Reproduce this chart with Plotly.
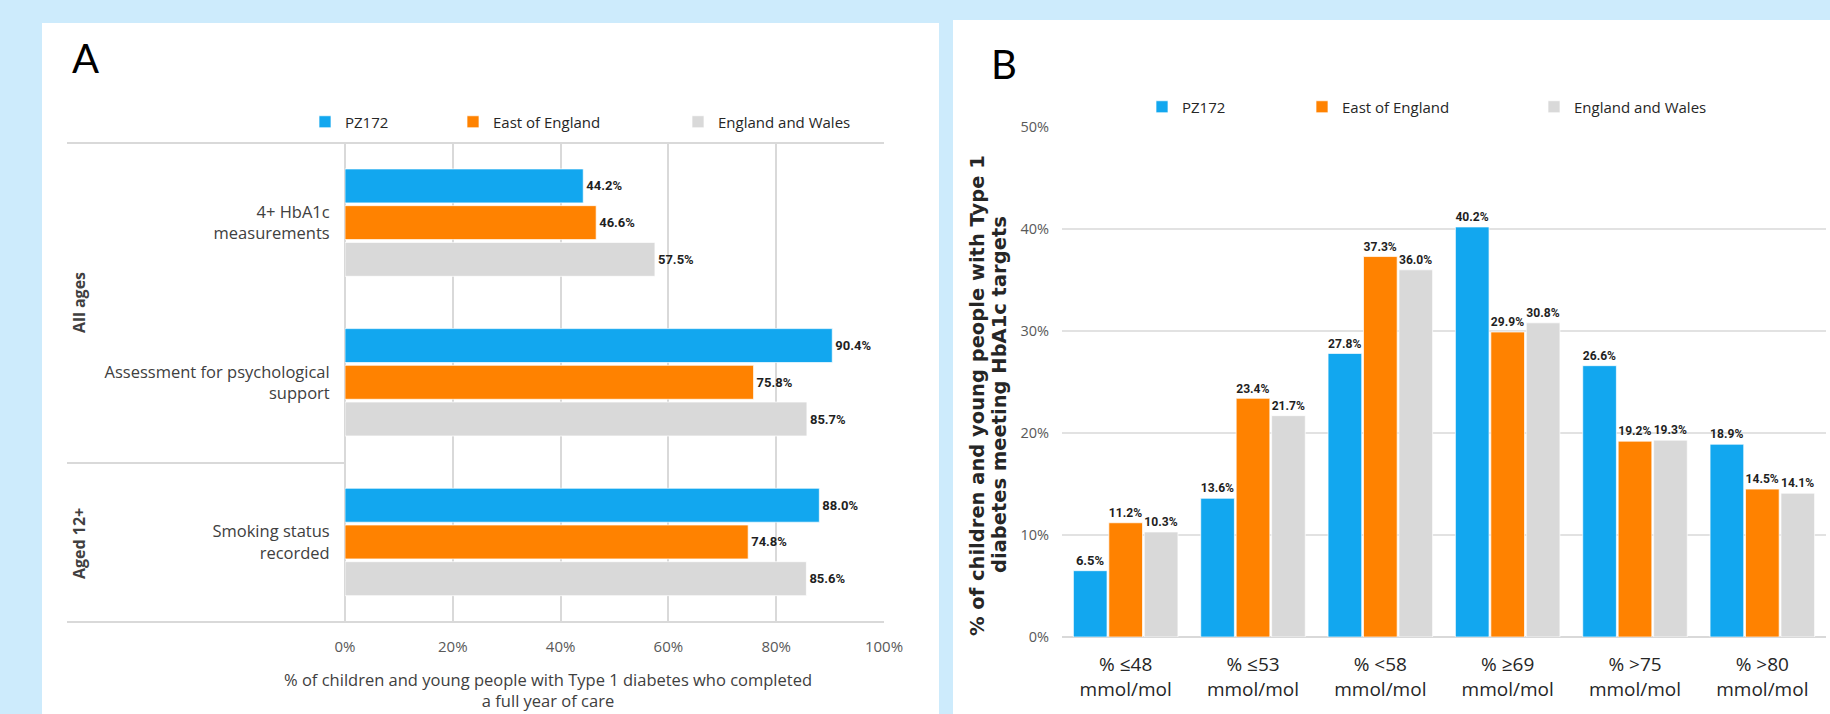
import plotly.graph_objects as go

# ---------------- data ----------------
series_names = ["PZ172", "East of England", "England and Wales"]

a_categories = ["4+ HbA1c<br>measurements",
                "Assessment for psychological<br>support",
                "Smoking status<br>recorded"]
a_pz172 = [44.2, 90.4, 88.0]
a_east = [46.6, 75.8, 74.8]
a_england_wales = [57.5, 85.7, 85.6]
a_ticks = [0, 20, 40, 60, 80, 100]
a_tick_labels = ["0%", "20%", "40%", "60%", "80%", "100%"]

b_categories = ["% ≤48<br>mmol/mol", "% ≤53<br>mmol/mol", "% <58<br>mmol/mol",
                "% ≥69<br>mmol/mol", "% >75<br>mmol/mol", "% >80<br>mmol/mol"]
b_pz172 = [6.5, 13.6, 27.8, 40.2, 26.6, 18.9]
b_east = [11.2, 23.4, 37.3, 29.9, 19.2, 14.5]
b_england_wales = [10.3, 21.7, 36.0, 30.8, 19.3, 14.1]
b_ticks = [0, 10, 20, 30, 40, 50]
b_tick_labels = ["0%", "10%", "20%", "30%", "40%", "50%"]

# ---------------- style ----------------
W, H = 1830, 714
COLORS = ["#12A7EF", "#FF8200", "#D9D9D9"]
BG = "#CDEBFC"
FONT = "Open Sans"
LABEL_FONT = dict(family="Roboto", size=13, color="#1F1F1F", weight="bold")


def px(x):
    return x / W


def py(y):
    return 1 - y / H


fig = go.Figure()

# Panel A: horizontal grouped bars
a_width = 0.2125
a_offsets = [-0.3375, -0.1075, 0.1225]
for i, (name, vals) in enumerate(zip(series_names, [a_pz172, a_east, a_england_wales])):
    fig.add_trace(go.Bar(
        y=a_categories, x=vals, name=name, orientation="h",
        marker=dict(color=COLORS[i], line=dict(color="rgba(255,255,255,0.7)", width=1)),
        width=a_width, offset=a_offsets[i],
        text=[f"{v:.1f}%" for v in vals], textposition="outside",
        textfont=LABEL_FONT, cliponaxis=False,
        xaxis="x", yaxis="y", legend=["legend", "legend2", "legend3"][i],
        showlegend=True, hoverinfo="x+name",
    ))

# Panel B: vertical grouped bars
for i, (name, vals) in enumerate(zip(series_names, [b_pz172, b_east, b_england_wales])):
    fig.add_trace(go.Bar(
        x=b_categories, y=vals, name=name,
        marker=dict(color=COLORS[i], line=dict(color="rgba(255,255,255,0.7)", width=1)),
        text=[f"{v:.1f}%" for v in vals], textposition="outside",
        textfont=LABEL_FONT, cliponaxis=False,
        xaxis="x2", yaxis="y2", legend=["legend4", "legend5", "legend6"][i],
        showlegend=True, hoverinfo="y+name",
    ))

legend_common = dict(orientation="h", bgcolor="rgba(0,0,0,0)", borderwidth=0,
                     font=dict(family=FONT, size=15, color="#262626"),
                     xanchor="left", yanchor="middle", visible=True)
legend_pos = {
    "legend": (345, 122), "legend2": (493, 122), "legend3": (718, 122),
    "legend4": (1182, 107), "legend5": (1342, 107), "legend6": (1574, 107),
}
legends = {k: dict(legend_common, x=px(x - 40), y=py(y)) for k, (x, y) in legend_pos.items()}

shapes = [
    # white panels
    dict(type="rect", xref="paper", yref="paper", x0=px(42), x1=px(939), y0=0, y1=py(23),
         fillcolor="white", line=dict(width=0), layer="below"),
    dict(type="rect", xref="paper", yref="paper", x0=px(953), x1=1, y0=0, y1=py(20),
         fillcolor="white", line=dict(width=0), layer="below"),
    # panel A table lines
    dict(type="line", xref="paper", yref="paper", x0=px(67), x1=px(884), y0=py(143), y1=py(143),
         line=dict(color="#D9D9D9", width=2)),
    dict(type="line", xref="paper", yref="paper", x0=px(67), x1=px(884), y0=py(622), y1=py(622),
         line=dict(color="#D9D9D9", width=2)),
    dict(type="line", xref="paper", yref="paper", x0=px(67), x1=px(345), y0=py(463), y1=py(463),
         line=dict(color="#D9D9D9", width=2)),
]

B_TITLE_FONT = dict(family="DejaVu Sans", size=19.5, color="#262626")
annotations = [
    dict(text="A", x=px(70), y=py(58), xref="paper", yref="paper", xanchor="left", yanchor="middle",
         showarrow=False, font=dict(family="Lato", size=40, color="#000000")),
    dict(text="B", x=px(989), y=py(64), xref="paper", yref="paper", xanchor="left", yanchor="middle",
         showarrow=False, font=dict(family="Lato", size=40, color="#000000")),
    dict(text="<b>All ages</b>", x=px(79), y=py(303), xref="paper", yref="paper", textangle=-90,
         xanchor="center", yanchor="middle",
         showarrow=False, font=dict(family=FONT, size=16, color="#404040")),
    dict(text="<b>Aged 12+</b>", x=px(79), y=py(544), xref="paper", yref="paper", textangle=-90,
         xanchor="center", yanchor="middle",
         showarrow=False, font=dict(family=FONT, size=16, color="#404040")),
    dict(text="% of children and young people with Type 1 diabetes who completed<br>a full year of care",
         x=px(548), y=py(690), xref="paper", yref="paper", xanchor="center", yanchor="middle",
         showarrow=False, align="center", font=dict(family=FONT, size=16.5, color="#404040")),
    dict(text="<b>% of children and young people with Type 1</b>",
         x=px(977), y=py(395), xref="paper", yref="paper", textangle=-90,
         xanchor="center", yanchor="middle", showarrow=False, font=B_TITLE_FONT),
    dict(text="<b>diabetes meeting HbA1c targets</b>",
         x=px(999), y=py(395), xref="paper", yref="paper", textangle=-90,
         xanchor="center", yanchor="middle", showarrow=False, font=B_TITLE_FONT),
]

fig.update_layout(
    width=W, height=H,
    margin=dict(l=0, r=0, t=0, b=0, pad=0, autoexpand=False),
    paper_bgcolor=BG, plot_bgcolor="rgba(0,0,0,0)",
    showlegend=True,
    barmode="group", bargap=0.165, bargroupgap=0.05,
    font=dict(family=FONT, color="#404040"),
    xaxis=dict(domain=[px(345), px(884)], anchor="y", range=[0, 100],
               tickmode="array", tickvals=a_ticks, ticktext=a_tick_labels,
               showgrid=True, gridcolor="#D9D9D9", gridwidth=1.5,
               zeroline=True, zerolinecolor="#D9D9D9", zerolinewidth=1.5, showline=False,
               ticks="outside", ticklen=11, tickcolor="rgba(0,0,0,0)", automargin=False,
               tickfont=dict(family=FONT, size=15, color="#595959"), fixedrange=True),
    yaxis=dict(domain=[py(622), py(143)], anchor="x", type="category", range=[2.5, -0.5],
               showgrid=False, zeroline=False, showline=False, automargin=False,
               ticks="outside", ticklen=11, tickcolor="rgba(0,0,0,0)",
               tickfont=dict(family=FONT, size=16.5, color="#404040"), fixedrange=True),
    xaxis2=dict(domain=[px(1062), px(1826)], anchor="y2", type="category", range=[-0.5, 5.5],
                showgrid=False, zeroline=False, showline=False, automargin=False,
                ticks="outside", ticklen=10, tickcolor="rgba(0,0,0,0)",
                tickfont=dict(family=FONT, size=19, color="#262626"), fixedrange=True),
    yaxis2=dict(domain=[py(637), py(127)], anchor="x2", range=[0, 50],
                tickmode="array", tickvals=b_ticks, ticktext=b_tick_labels,
                showgrid=True, gridcolor="#E2E2E2", gridwidth=2, automargin=False,
                zeroline=True, zerolinecolor="#D9D9D9", zerolinewidth=2, showline=False,
                ticks="outside", ticklen=9, tickcolor="rgba(0,0,0,0)",
                tickfont=dict(family=FONT, size=14.5, color="#595959"), fixedrange=True),
    shapes=shapes,
    annotations=annotations,
    **legends,
)

fig.write_html("out.html", config=dict(displayModeBar=False))
